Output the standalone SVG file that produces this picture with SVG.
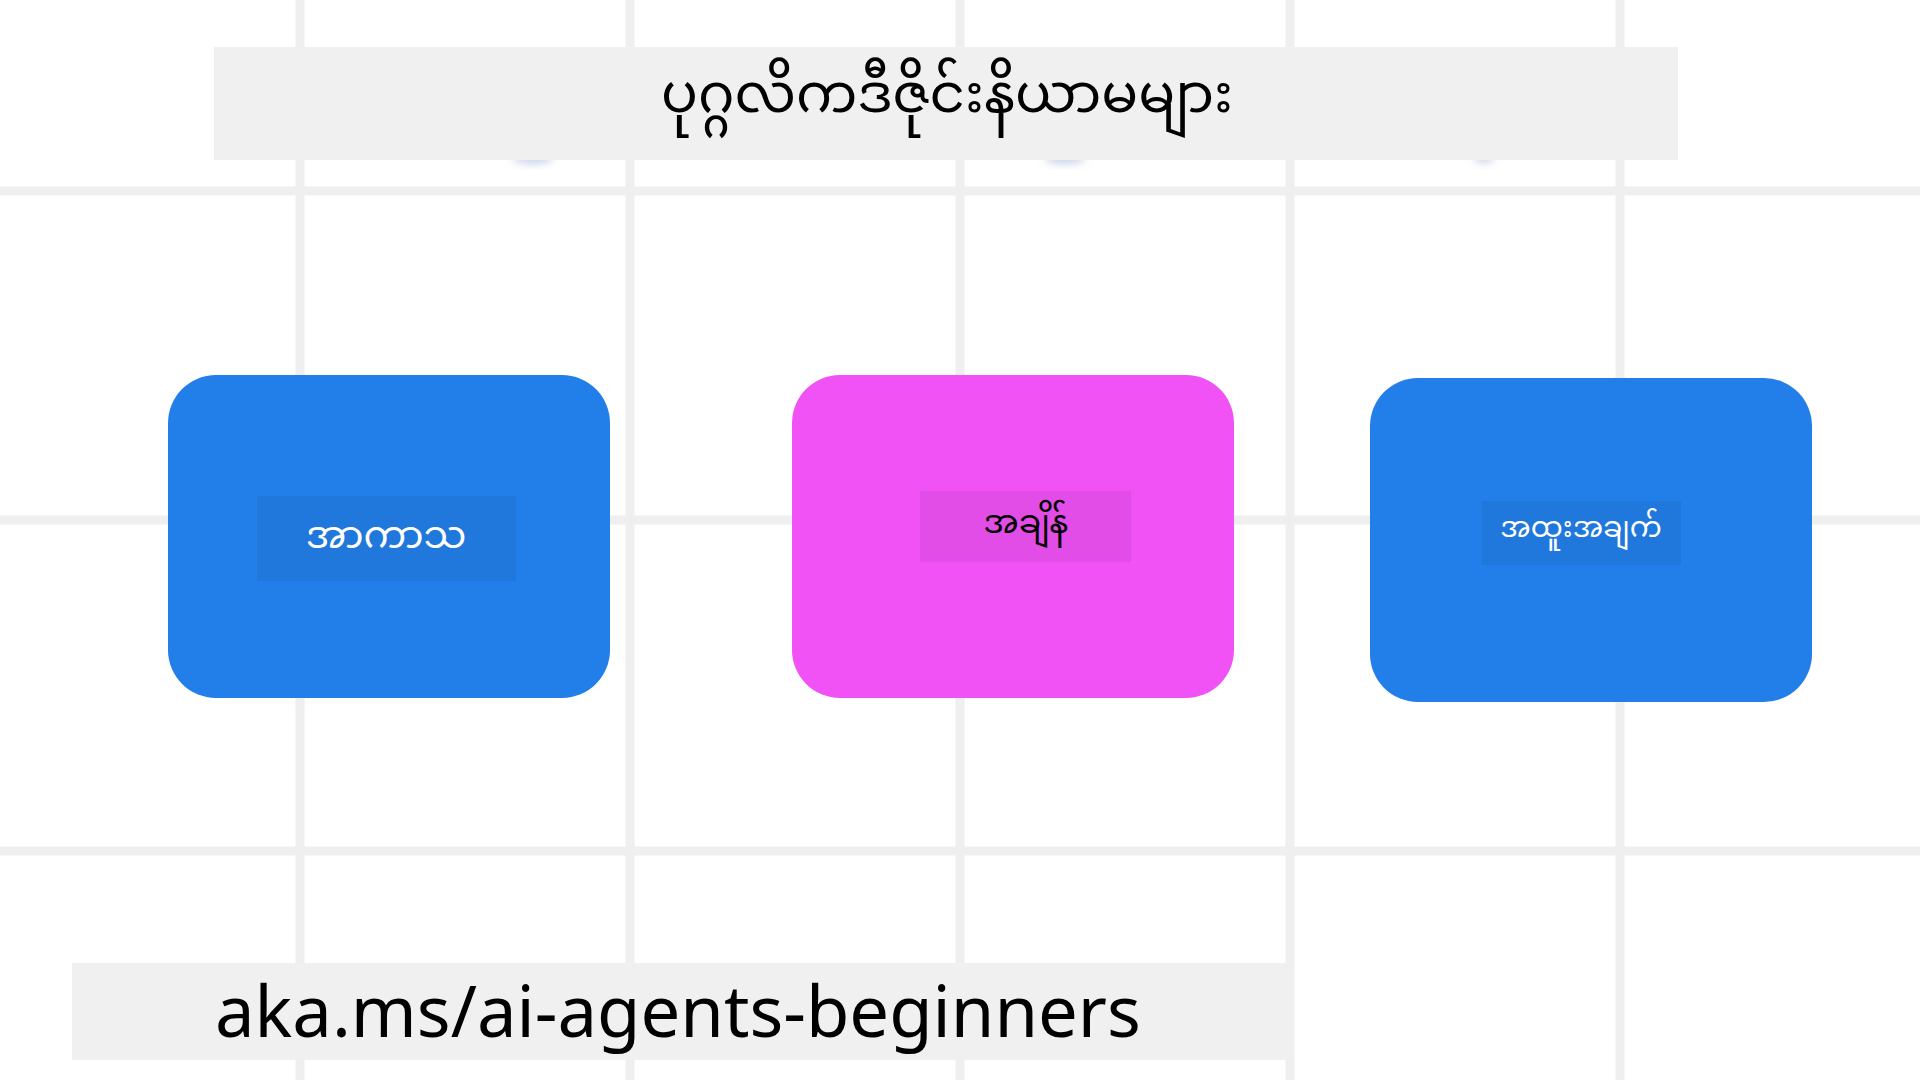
<svg xmlns="http://www.w3.org/2000/svg" width="1920" height="1080" viewBox="0 0 1920 1080">
  <defs>
    <style>
      .grid line { stroke: #efefef; stroke-width: 9; }
      .band { fill: #f0f0f0; }
      .node-blue { fill: #227ee9; }
      .node-pink { fill: #f052f5; }
      .label-bg { fill: #000000; fill-opacity: 0.055; }
      .my { font-family: "Noto Sans Myanmar", "Padauk", "Myanmar Text", "Noto Sans", sans-serif; text-anchor: middle; }
      .url { font-family: "Noto Sans", "Open Sans", "Liberation Sans", sans-serif; fill: #000000; }
    </style>
    <filter id="soft" x="-50%" y="-50%" width="200%" height="200%">
      <feGaussianBlur stdDeviation="4"/>
    </filter>
  </defs>

  <rect width="1920" height="1080" fill="#ffffff"/>

  <g class="grid">
    <line x1="300" y1="0" x2="300" y2="1080"/>
    <line x1="630" y1="0" x2="630" y2="1080"/>
    <line x1="960" y1="0" x2="960" y2="1080"/>
    <line x1="1290" y1="0" x2="1290" y2="1080"/>
    <line x1="1620" y1="0" x2="1620" y2="1080"/>
    <line x1="0" y1="191" x2="1920" y2="191"/>
    <line x1="0" y1="520" x2="1920" y2="520"/>
    <line x1="0" y1="851" x2="1920" y2="851"/>
  </g>

  <g id="shadows" filter="url(#soft)" fill="#8aa0c8" fill-opacity="0.45">
    <ellipse cx="533" cy="158" rx="20" ry="6"/>
    <ellipse cx="1065" cy="158" rx="20" ry="6"/>
    <ellipse cx="1484" cy="158" rx="10" ry="5"/>
  </g>

  <g id="title">
    <rect class="band" x="214" y="47" width="1464" height="113"/>
    <text class="my" x="947" y="112" font-size="54.6" fill="#000000">ပုဂ္ဂလိကဒီဇိုင်းနိယာမများ</text>
  </g>

  <g id="connectors"></g>

  <g id="node-space">
    <rect class="node-blue" x="168" y="375" width="442" height="323" rx="48" ry="48"/>
    <rect class="label-bg" x="257" y="496" width="259" height="85"/>
    <text class="my" x="386" y="548" font-size="38" fill="#ffffff">အာကာသ</text>
  </g>

  <g id="node-time">
    <rect class="node-pink" x="792" y="375" width="442" height="323" rx="48" ry="48"/>
    <rect class="label-bg" x="920" y="491" width="211" height="71"/>
    <text class="my" x="1026" y="533" font-size="33" fill="#000000">အချိန်</text>
  </g>

  <g id="node-special">
    <rect class="node-blue" x="1370" y="378" width="442" height="324" rx="48" ry="48"/>
    <rect class="label-bg" x="1482" y="501" width="199" height="64"/>
    <text class="my" x="1581" y="537" font-size="28.5" fill="#ffffff">အထူးအချက်</text>
  </g>

  <g id="footer">
    <rect class="band" x="72" y="963" width="1218" height="97"/>
    <text class="url" x="215" y="1037" font-size="70.6">aka.ms/ai-agents-beginners</text>
  </g>
</svg>
